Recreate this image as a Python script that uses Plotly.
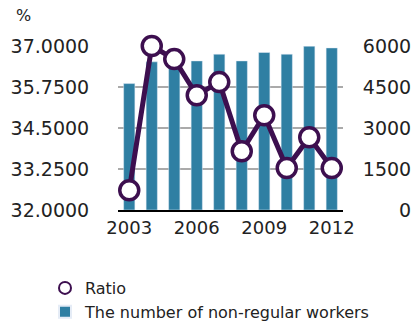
import plotly.graph_objects as go

years = [2003, 2004, 2005, 2006, 2007, 2008, 2009, 2010, 2011, 2012]
workers = [4625, 5420, 5380, 5454, 5700, 5454, 5762, 5700, 5993, 5930]
ratio = [32.60, 37.00, 36.60, 35.50, 35.90, 33.79, 34.89, 33.28, 34.22, 33.28]
left_ticks = [32.0, 33.25, 34.5, 35.75, 37.0]
right_ticks = [0, 1500, 3000, 4500, 6000]
x_ticks = [2003, 2006, 2009, 2012]

BAR = "#2f7fa3"
LINE = "#3d0f4f"
FONT = "DejaVu Sans"

PL, PR, PT, PB = 118, 71, 46, 112
W, H = 414, 322
pw, ph = W - PL - PR, H - PT - PB

# right-axis labels are right-aligned in the reference: pad with figure spaces
right_text = [str(v).rjust(4, "\u2007") for v in right_ticks]

fig = go.Figure()
fig.add_trace(go.Bar(x=years, y=workers, yaxis="y", marker_color=BAR,
                     name="The number of non-regular workers", legendrank=2))
fig.add_trace(go.Scatter(x=years, y=ratio, yaxis="y2", mode="lines+markers", showlegend=False,
                         line=dict(color=LINE, width=5),
                         marker=dict(size=19, color="white", line=dict(color=LINE, width=3.5)),
                         cliponaxis=False))
fig.add_trace(go.Scatter(x=[years[0]], y=[None], yaxis="y2", mode="markers", name="Ratio",
                         legendrank=1,
                         marker=dict(size=9, color="white", line=dict(color=LINE, width=3))))

fig.update_layout(
    width=W, height=H,
    margin=dict(l=PL, r=PR, t=PT, b=PB, autoexpand=False),
    paper_bgcolor="white", plot_bgcolor="white",
    font=dict(family=FONT, size=18, color="#222222"),
    bargap=0.5,
    xaxis=dict(range=[2002.5, 2012.5], tickvals=x_ticks, showgrid=False,
               showline=True, linecolor="black", linewidth=2, ticks="",
               zeroline=False, tickfont=dict(size=18)),
    yaxis=dict(range=[0, 6000], tickvals=right_ticks, ticktext=right_text, side="right",
               showgrid=True, gridcolor="#aaaaaa", gridwidth=2, zeroline=False,
               ticks="outside", ticklen=15, tickcolor="rgba(0,0,0,0)",
               tickfont=dict(size=19)),
    yaxis2=dict(range=[32, 37], tickvals=left_ticks, tickformat=".4f",
                overlaying="y", side="left",
                showgrid=False, zeroline=False,
                ticks="outside", ticklen=24, tickcolor="rgba(0,0,0,0)",
                tickfont=dict(size=19)),
    legend=dict(x=(45 - PL) / pw, y=(H - PB - 271) / ph,
                xanchor="left", yanchor="top", orientation="v",
                font=dict(family=FONT, size=16, color="#222222"),
                tracegroupgap=0, itemsizing="constant", bgcolor="rgba(0,0,0,0)"),
    annotations=[dict(text="%", xref="paper", yref="paper",
                      x=(14 - PL) / pw, y=(H - PB - 15) / ph,
                      xanchor="left", yanchor="middle", showarrow=False,
                      font=dict(family=FONT, size=16, color="#222222"))],
)

fig.write_html("out.html")
